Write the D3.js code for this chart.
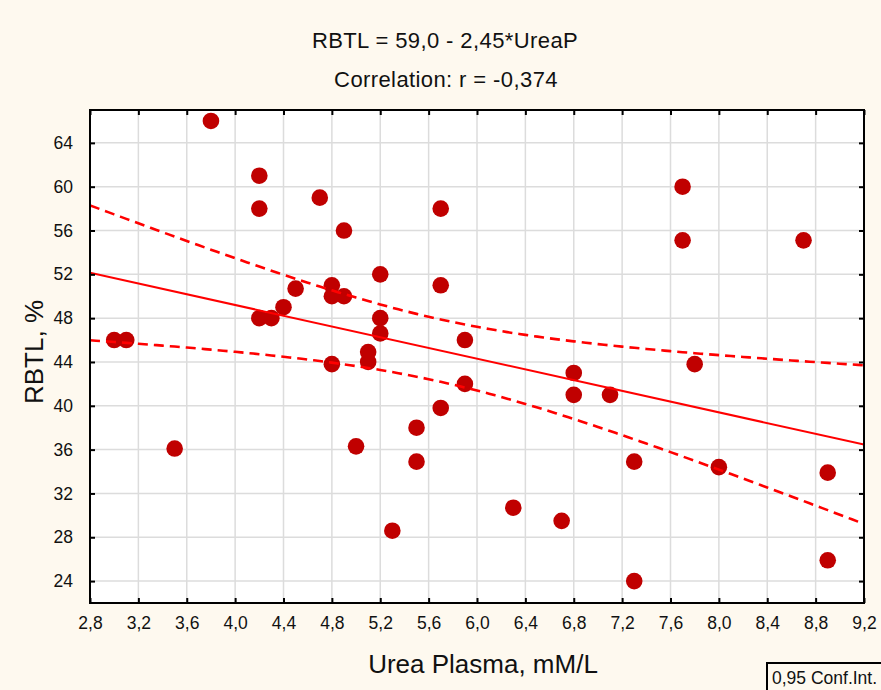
<!DOCTYPE html>
<html>
<head>
<meta charset="utf-8">
<script src="https://cdn.jsdelivr.net/npm/d3@7"></script>
<style>
  html, body { margin: 0; padding: 0; background: #FEF9EF; }
  svg { display: block; }
  text { font-family: "Liberation Sans", Arial, sans-serif; fill: #111; }
</style>
</head>
<body>
<svg id="chart" width="881" height="690"></svg>
<script>
// Urea plasma (mM/L) and RBTL (%) for each subject
const ureaPlasma = [3.8, 4.2, 4.2, 4.7, 4.9, 5.7, 7.7, 7.7, 8.7, 5.2,
                    5.7, 4.5, 4.8, 4.8, 4.9, 4.4, 4.2, 4.3, 5.2, 5.2,
                    3.0, 3.1, 5.9, 5.1, 5.1, 4.8, 7.8, 6.8, 5.9, 6.8,
                    7.1, 5.7, 5.5, 5.5, 5.0, 3.5, 8.0, 7.3, 8.9, 6.3,
                    6.7, 5.3, 7.3, 8.9];
const rbtl = [66, 61, 58, 59, 56, 58, 60, 55.1, 55.1, 52,
              51, 50.7, 51, 50, 50, 49, 48, 48, 48, 46.6,
              46, 46, 46, 44.9, 44, 43.8, 43.8, 43, 42, 41,
              41, 39.8, 38, 34.9, 36.3, 36.1, 34.4, 34.9, 33.9, 30.7,
              29.5, 28.6, 24, 25.9];

// Axis ticks
const xTickValues = [2.8, 3.2, 3.6, 4.0, 4.4, 4.8, 5.2, 5.6, 6.0, 6.4, 6.8, 7.2, 7.6, 8.0, 8.4, 8.8, 9.2];
const yTickValues = [24, 28, 32, 36, 40, 44, 48, 52, 56, 60, 64];
const xDomain = [2.8, 9.2];
const yDomain = [22, 67];

// Fitted model as reported
const intercept = 59.0;
const slope = -2.45;
const correlation = -0.374;
const tCritical = 2.018;   // t(0.975, n - 2 = 42)

// Decimal comma, plain hyphen for negatives
const locale = d3.formatLocale({ decimal: ",", thousands: " ", grouping: [3], currency: ["", ""], minus: "-" });
const fmt = (f) => locale.format(f);

const svg = d3.select("#chart");
const W = 881, H = 690;
const plot = { left: 90, right: 864, top: 110, bottom: 603 };
const FONT = '"Liberation Sans", Arial, sans-serif';

svg.append("rect").attr("width", W).attr("height", H).attr("fill", "#FEF9EF");

const x = d3.scaleLinear().domain(xDomain).range([plot.left, plot.right]);
const y = d3.scaleLinear().domain(yDomain).range([plot.bottom, plot.top]);

// Plot background
svg.append("rect")
  .attr("x", plot.left).attr("y", plot.top)
  .attr("width", plot.right - plot.left).attr("height", plot.bottom - plot.top)
  .attr("fill", "#ffffff");

// Grid
const grid = svg.append("g").attr("stroke", "#dcdcdc").attr("stroke-width", 1.5);
grid.selectAll("line.v").data(xTickValues.slice(1, -1)).join("line")
  .attr("x1", d => x(d)).attr("x2", d => x(d))
  .attr("y1", plot.top).attr("y2", plot.bottom);
grid.selectAll("line.h").data(yTickValues).join("line")
  .attr("y1", d => y(d)).attr("y2", d => y(d))
  .attr("x1", plot.left).attr("x2", plot.right);

svg.append("clipPath").attr("id", "plotClip")
  .append("rect")
  .attr("x", plot.left).attr("y", plot.top)
  .attr("width", plot.right - plot.left).attr("height", plot.bottom - plot.top);

// Points
svg.append("g")
  .selectAll("circle")
  .data(ureaPlasma.map((u, i) => [u, rbtl[i]]))
  .join("circle")
  .attr("cx", d => x(d[0]))
  .attr("cy", d => y(d[1]))
  .attr("r", 8.3)
  .attr("fill", "#C00000");

// 95% confidence band for the mean response
const n = ureaPlasma.length;
const xMean = d3.mean(ureaPlasma);
const sxx = d3.sum(ureaPlasma, v => (v - xMean) ** 2);
const sse = d3.sum(ureaPlasma, (v, i) => (rbtl[i] - (intercept + slope * v)) ** 2);
const sErr = Math.sqrt(sse / (n - 2));
const fit = v => intercept + slope * v;
const halfWidth = v => tCritical * sErr * Math.sqrt(1 / n + (v - xMean) ** 2 / sxx);
const bandX = d3.range(0, 129).map(i => xDomain[0] + (xDomain[1] - xDomain[0]) * i / 128);

const lines = svg.append("g").attr("clip-path", "url(#plotClip)");
const lineGen = d3.line().x(d => x(d[0])).y(d => y(d[1]));

lines.append("path")
  .attr("d", lineGen(xDomain.map(v => [v, fit(v)])))
  .attr("fill", "none").attr("stroke", "#FF0000").attr("stroke-width", 2);

[1, -1].forEach(s => {
  lines.append("path")
    .attr("d", lineGen(bandX.map(v => [v, fit(v) + s * halfWidth(v)])))
    .attr("fill", "none").attr("stroke", "#FF0000")
    .attr("stroke-width", 2.6).attr("stroke-dasharray", "10,6");
});

// Axes (inward ticks on all four sides)
const axisStyle = g => {
  g.select(".domain").remove();
  g.selectAll(".tick line").attr("stroke", "#000").attr("stroke-width", 2);
};
const labelStyle = g => g.selectAll("text")
  .attr("font-size", 17.5).attr("fill", "#111").attr("font-family", FONT);

svg.append("g").attr("transform", `translate(0,${plot.bottom})`)
  .call(d3.axisBottom(x).tickValues(xTickValues).tickSize(-5).tickPadding(14).tickFormat(fmt(".1f")))
  .call(axisStyle).call(labelStyle);
svg.append("g").attr("transform", `translate(0,${plot.top})`)
  .call(d3.axisTop(x).tickValues(xTickValues).tickSize(-5).tickFormat(""))
  .call(axisStyle);
svg.append("g").attr("transform", `translate(${plot.left},0)`)
  .call(d3.axisLeft(y).tickValues(yTickValues).tickSize(-5).tickPadding(17).tickFormat(fmt("d")))
  .call(axisStyle).call(labelStyle);
svg.append("g").attr("transform", `translate(${plot.right},0)`)
  .call(d3.axisRight(y).tickValues(yTickValues).tickSize(-5).tickFormat(""))
  .call(axisStyle);

// Frame
svg.append("rect")
  .attr("x", plot.left).attr("y", plot.top)
  .attr("width", plot.right - plot.left).attr("height", plot.bottom - plot.top)
  .attr("fill", "none").attr("stroke", "#000").attr("stroke-width", 2);

// Titles
const sign = slope < 0 ? "-" : "+";
svg.append("text")
  .attr("x", 445).attr("y", 48)
  .attr("text-anchor", "middle").attr("font-size", 22).attr("letter-spacing", 0.4)
  .text(`RBTL = ${fmt(".1f")(intercept)} ${sign} ${fmt(".2f")(Math.abs(slope))}*UreaP`);
svg.append("text")
  .attr("x", 446).attr("y", 87)
  .attr("text-anchor", "middle").attr("font-size", 22).attr("letter-spacing", 0.4)
  .text(`Correlation: r = ${fmt(".3f")(correlation)}`);

svg.append("text")
  .attr("x", 483).attr("y", 673)
  .attr("text-anchor", "middle").attr("font-size", 26)
  .text("Urea Plasma, mM/L");
svg.append("text")
  .attr("transform", "translate(43,352) rotate(-90)")
  .attr("text-anchor", "middle").attr("font-size", 26)
  .text("RBTL, %");

// Legend
svg.append("rect")
  .attr("x", 767).attr("y", 663).attr("width", 130).attr("height", 40)
  .attr("fill", "#FEF9EF").attr("stroke", "#000").attr("stroke-width", 2);
svg.append("text")
  .attr("x", 772).attr("y", 684)
  .attr("font-size", 17.5)
  .text("0,95 Conf.Int.");
</script>
</body>
</html>
